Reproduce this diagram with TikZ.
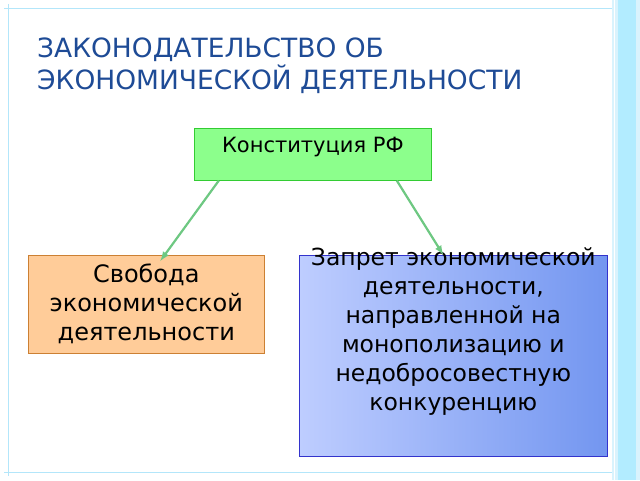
\documentclass[tikz,border=0pt]{standalone}
\usepackage{fontspec}
\setmainfont{DejaVu Sans}
\definecolor{ttl}{RGB}{30,75,150}
\definecolor{ar}{RGB}{110,200,130}
\definecolor{zl}{RGB}{190,205,255}
\definecolor{zr}{RGB}{115,150,240}
\begin{document}
\begin{tikzpicture}[x=1pt,y=-1pt,
 box/.style={draw=#1!60!gray,line width=0.6pt,inner sep=3pt,align=center,font=\fontsize{24}{29}\selectfont},
 arr/.style={draw=ar,line width=2.2pt,-latex}]
\useasboundingbox (0,0) rectangle (640,480);
\fill[white] (0,0) rectangle (640,480);
\draw[cyan!30,line width=1pt] (8,4) -- (8,476) (4,8) -- (636,8) (4,472) -- (636,472);
\fill[cyan!15] (612,0) rectangle (640,480);
\fill[blue!25!cyan!30] (618,0) rectangle (636,480);
\draw[white,line width=1pt] (614,0) -- (614,480);
\node[anchor=north west,align=left,text=ttl,inner sep=0pt,font=\fontsize{26.5}{32}\selectfont] (t) at (37,38) {ЗАКОНОДАТЕЛЬСТВО ОБ\\ЭКОНОМИЧЕСКОЙ ДЕЯТЕЛЬНОСТИ};
\node[box=green,fill=green!45,minimum width=237pt,minimum height=52pt,anchor=north west,text depth=18pt,font=\fontsize{21}{24}\selectfont] (k) at (194,128) {Конституция РФ};
\node[box=orange,fill=orange!40,minimum width=236pt,minimum height=98pt,anchor=north west] (s) at (28,255) {Свобода\\экономической\\деятельности};
\node[box=blue,left color=zl,right color=zr,minimum width=308pt,minimum height=201pt,anchor=north west] (z) at (299,255) {};
\node[align=center,anchor=north,inner sep=0pt,font=\fontsize{23.5}{29}\selectfont] (zt) at ([yshift=8pt]z.north) {Запрет экономической\\деятельности,\\направленной на\\монополизацию и\\недобросовестную\\конкуренцию};
\draw[arr] ([xshift=-94pt]k.south) -- ([xshift=14pt,yshift=-6pt]s.north);
\draw[arr] ([xshift=84pt]k.south) -- ([xshift=-10pt]z.north);
\end{tikzpicture}
\end{document}
